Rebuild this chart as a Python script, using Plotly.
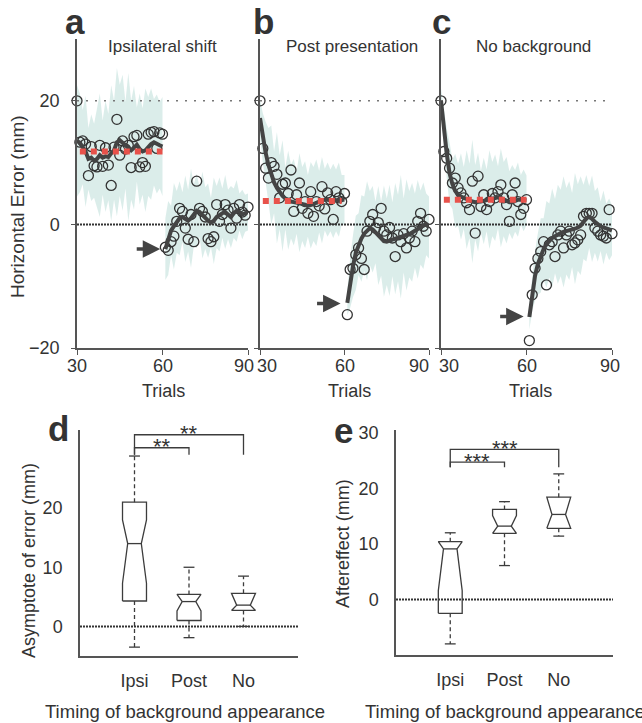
import plotly.graph_objects as go

# ---------------- data: top panels (trials 30..60 pre, 61..90 post) ----------------
trials_pre = list(range(30, 61))
trials_post = list(range(61, 91))

a_pre_pts = [20, 13.3, 13.5, 13.0, 7.9, 12.6, 9.5, 9.3, 12.8, 9.4, 12.4, 9.6, 6.3, 12.5, 17.0, 11.2,
             13.5, 12.2, 12.8, 9.2, 14.2, 14.4, 9.3, 10.0, 9.4, 14.6, 14.9, 15.0, 12.3, 14.8, 14.6]
a_post_pts = [-3.7, -4.2, -2.8, -1.9, 0.5, 2.6, 2.1, -0.6, -2.4, 1.6, -2.8, 7.0, 2.6, 2.1, 1.2,
              -2.3, -2.8, -2.0, 3.2, 0.5, 1.6, 3.2, 2.3, -0.6, 2.6, 1.0, 3.2, 2.0, 1.5, 2.8]
a_pre_fit = [13.5, 13.2, 12.5, 11.8, 10.6, 10.8, 10.3, 10.6, 11.2, 10.8, 11.0, 10.9, 11.5, 12.0, 13.3,
             13.6, 13.2, 12.8, 12.5, 12.0, 12.4, 12.9, 12.2, 11.8, 12.0, 12.6, 13.0, 13.3, 13.0, 12.8, 12.6]
a_post_fit = [-4.0, -2.2, -1.0, -0.3, 0.4, 1.0, 1.2, 0.9, 0.6, 1.0, 1.5, 2.2, 2.0, 1.5, 1.0,
              0.6, 0.3, 0.6, 1.2, 1.6, 1.8, 2.0, 1.6, 1.2, 1.8, 2.2, 2.0, 1.6, 1.8, 2.0]
a_pre_sd = [9, 8, 6, 9, 5, 7, 6, 8, 10, 6, 9, 7, 11, 8, 12, 9, 11, 7, 12, 8, 10, 6, 9, 7, 10, 8, 9, 7, 8, 7, 8]
a_post_sd = [5, 6, 4, 7, 5, 6, 4, 7, 5, 8, 5, 6, 4, 7, 5, 6, 4, 7, 5, 6, 4, 6, 4, 5, 4, 5, 3, 4, 3, 3]

b_pre_pts = [20, 12.3, 9.1, 7.5, 10.0, 9.4, 8.1, 4.3, 6.5, 6.7, 5.0, 8.8, 2.1, 4.8, 6.7, 2.6,
             3.7, 1.8, 5.3, 1.3, 3.7, 3.0, 6.1, 2.5, 5.1, 4.0, 0.8, 5.3, 4.3, 3.7, 5.0]
b_post_pts = [-14.6, -7.3, -7.1, -4.9, -3.8, -5.5, -7.3, -1.1, 0.5, 1.6, -0.6, 0.3, 2.6, -1.1, -1.7,
              -0.5, -2.2, -5.2, -1.7, -2.8, -1.5, -3.8, -2.2, -1.1, -2.8, 0.5, 1.8, -0.3, -1.1, 0.8]
b_pre_fit = [17.2, 14.0, 11.6, 9.6, 8.0, 6.8, 5.9, 5.2, 4.6, 4.2, 3.9, 3.7, 3.6, 3.5, 3.5, 3.3,
             3.2, 3.0, 3.1, 3.3, 3.5, 3.7, 3.9, 4.0, 4.0, 3.9, 3.8, 3.9, 4.0, 4.0, 4.0]
b_post_fit = [-12.7, -9.5, -6.8, -4.6, -3.2, -2.3, -1.5, -1.0, -0.6, -0.8, -1.3, -1.8, -2.3, -2.7, -2.8,
              -2.6, -2.4, -2.3, -2.2, -2.0, -1.8, -1.7, -1.6, -1.3, -1.0, -0.8, -0.5, -0.2, 0.0, -0.5]
b_pre_sd = [3, 4, 5, 6, 8, 5, 9, 6, 9, 5, 8, 6, 7, 5, 8, 6, 7, 5, 7, 6, 7, 5, 7, 5, 6, 5, 6, 5, 6, 4, 4]
b_post_sd = [2, 4, 5, 6, 5, 7, 6, 8, 6, 7, 5, 8, 6, 9, 7, 9, 6, 9, 7, 10, 6, 9, 7, 8, 6, 8, 6, 7, 5, 5]

c_pre_pts = [20, 11.8, 10.7, 9.1, 6.7, 7.5, 5.9, 5.1, 4.3, 3.5, 2.4, 7.0, -1.4, 7.8, 2.9, 4.8,
             2.4, 3.7, 5.0, 4.3, 5.3, 6.4, 4.3, 3.2, 0.5, 4.8, 6.7, 3.7, 1.6, 2.6, 4.0]
c_post_pts = [-18.8, -11.4, -7.1, -5.5, -4.4, -2.8, -9.8, -3.3, -2.8, -5.2, -1.7, -1.1, -3.8, -1.7, -1.1,
              -3.3, -3.0, -2.5, -1.7, 1.3, 1.8, 1.8, 1.8, -0.6, -1.1, -1.7, -1.9, -2.2, 2.4, -1.5]
c_pre_fit = [20.0, 15.5, 11.5, 8.3, 6.5, 5.4, 4.8, 4.5, 4.3, 4.0, 3.8, 3.7, 3.6, 3.6, 3.7, 3.8,
             3.9, 4.0, 4.1, 4.3, 4.4, 4.3, 4.1, 3.9, 3.6, 3.6, 3.8, 4.0, 4.0, 3.9, 3.9]
c_post_fit = [-15.0, -11.0, -8.3, -6.4, -5.0, -4.0, -3.2, -2.6, -2.2, -1.9, -1.6, -1.4, -1.2, -1.1, -1.0,
              -0.9, -0.7, -0.5, -0.2, 0.4, 1.0, 1.2, 0.9, 0.4, 0.0, -0.3, -0.5, -0.6, -0.8, -1.0]
c_pre_sd = [2, 3, 4, 5, 4, 6, 5, 7, 5, 8, 6, 10, 6, 8, 5, 7, 5, 8, 6, 7, 5, 8, 6, 7, 5, 6, 5, 6, 4, 5, 4]
c_post_sd = [2, 3, 4, 5, 6, 5, 7, 6, 8, 6, 8, 7, 9, 7, 8, 6, 9, 7, 8, 6, 7, 5, 7, 5, 6, 4, 6, 4, 5, 4]

panel_titles = ["Ipsilateral shift", "Post presentation", "No background"]
panel_letters = ["a", "b", "c"]
asym_vals = [11.8, 3.8, 4.0]
asym_start = [31, 31, 31]
asym_end = [60, 59, 60]
arrow_trial = [59.2, 58.6, 59.0]
arrow_val = [-4.0, -12.8, -14.9]
top_xticks = [30, 60, 90]
top_yticks = [-20, 0, 20]

# ---------------- data: box plots ----------------
groups = ["Ipsi", "Post", "No"]
group_pos = [1, 2, 3]

d_q1 = [4.3, 1.0, 2.7]
d_med = [14.0, 4.2, 3.6]
d_q3 = [21.0, 5.4, 5.6]
d_low = [-3.5, -1.9, 0.0]
d_high = [28.8, 10.0, 8.5]
d_notch_lo = [7.3, 2.6, 1.1]
d_notch_hi = [18.0, 5.8, 6.1]

e_q1 = [-2.5, 11.9, 12.8]
e_med = [9.1, 13.2, 15.3]
e_q3 = [10.4, 16.2, 18.4]
e_low = [-8.0, 6.1, 11.4]
e_high = [12.0, 17.6, 22.6]
e_notch_lo = [1.6, 11.3, 12.0]
e_notch_hi = [10.6, 15.1, 18.6]

# brackets: (from group, to group, top value, drop value, label)
d_brackets = [(1, 3, 32.4, 29.0, "**"), (1, 2, 30.2, 29.0, "**")]
e_brackets = [(1, 3, 27.0, 23.8, "***"), (1, 2, 24.7, 23.8, "***")]

# ---------------- styling ----------------
FONT = "Arial, 'Liberation Sans', sans-serif"
TXT = "#333333"
LINE = "#3c3c3c"
W, H = 642, 723


def px_x(p):
    return p / W


def px_y(p):
    return 1 - p / H


def label(x, y, text, size=18, angle=0):
    fig.add_annotation(x=px_x(x), y=px_y(y), xref="paper", yref="paper", text=text,
                       showarrow=False, xanchor="center", yanchor="middle", textangle=angle,
                       font=dict(size=size, color=TXT, family=FONT))


fig = go.Figure()

top_panels = [
    (a_pre_pts, a_post_pts, a_pre_fit, a_post_fit, a_pre_sd, a_post_sd),
    (b_pre_pts, b_post_pts, b_pre_fit, b_post_fit, b_pre_sd, b_post_sd),
    (c_pre_pts, c_post_pts, c_pre_fit, c_post_fit, c_pre_sd, c_post_sd),
]
top_xdom = [(77, 248), (260, 429), (441, 612)]
top_ydom = (348, 39)
# small horizontal nudges of the trial tick labels (as in the original layout)
tick_nudge = [(0, 0, -4), (7, 0, -10), (8, 0, -2)]

for i, (pre_pts, post_pts, pre_fit, post_fit, pre_sd, post_sd) in enumerate(top_panels):
    xa = "x" if i == 0 else f"x{i+1}"
    ya = "y" if i == 0 else f"y{i+1}"
    # shaded variability band
    for tr, fit, sd in ((trials_pre, pre_fit, pre_sd), (trials_post, post_fit, post_sd)):
        up = [f + s for f, s in zip(fit, sd)]
        lo = [f - s for f, s in zip(fit, sd)]
        fig.add_trace(go.Scatter(x=tr + tr[::-1], y=up + lo[::-1], fill="toself",
                                 fillcolor="rgba(170,212,204,0.42)", line=dict(width=0),
                                 mode="lines", hoverinfo="skip", showlegend=False,
                                 xaxis=xa, yaxis=ya))
    # reference lines
    fig.add_trace(go.Scatter(x=[top_xticks[0], top_xticks[-1]], y=[20, 20], mode="lines",
                             line=dict(color="#777777", width=1.5, dash="2px,7px"),
                             showlegend=False, hoverinfo="skip", xaxis=xa, yaxis=ya))
    fig.add_trace(go.Scatter(x=[top_xticks[0], top_xticks[-1]], y=[0, 0], mode="lines",
                             line=dict(color="#333333", width=2, dash="2px,1px"),
                             showlegend=False, hoverinfo="skip", xaxis=xa, yaxis=ya))
    # data points
    fig.add_trace(go.Scatter(x=trials_pre + trials_post, y=pre_pts + post_pts, mode="markers",
                             marker=dict(symbol="circle-open", size=10, color="#333333",
                                         line=dict(width=1.3)),
                             cliponaxis=False, showlegend=False, xaxis=xa, yaxis=ya))
    # fitted curves
    for tr, fit in ((trials_pre, pre_fit), (trials_post, post_fit)):
        fig.add_trace(go.Scatter(x=tr, y=fit, mode="lines",
                                 line=dict(color="#444444", width=4),
                                 showlegend=False, xaxis=xa, yaxis=ya))
    # asymptote
    fig.add_trace(go.Scatter(x=[asym_start[i], asym_end[i]], y=[asym_vals[i], asym_vals[i]],
                             mode="lines", line=dict(color="#e8524b", width=6, dash="6px,5px"),
                             showlegend=False, xaxis=xa, yaxis=ya))
    # arrow
    fig.add_annotation(x=arrow_trial[i], y=arrow_val[i], xref=xa, yref=ya, ax=-25, ay=0,
                       showarrow=True, arrowhead=2, arrowsize=1, arrowwidth=3.5,
                       arrowcolor="#444444", text="")
    x0, x1 = top_xdom[i]
    fig.update_layout({
        ("xaxis" if i == 0 else f"xaxis{i+1}"): dict(
            domain=[px_x(x0), px_x(x1)], range=[30, 90], anchor=ya, automargin=False,
            tickvals=top_xticks, ticks="outside", ticklen=5, tickwidth=1.3, tickcolor="#555",
            showticklabels=False,
            showline=True, linecolor="#555", linewidth=1.5, showgrid=False, zeroline=False),
        ("yaxis" if i == 0 else f"yaxis{i+1}"): dict(
            domain=[px_y(top_ydom[0]), px_y(top_ydom[1])], range=[-20, 30], anchor=xa,
            automargin=False,
            tickvals=top_yticks, ticks="outside", ticklen=4, tickwidth=1.3, tickcolor="#555",
            showticklabels=(i == 0), ticklabelstandoff=8,
            showline=True, linecolor="#555", linewidth=1.5, showgrid=False, zeroline=False,
            tickfont=dict(size=18, color=TXT, family=FONT)),
    })
    # trial tick labels
    for tv, nud in zip(top_xticks, tick_nudge[i]):
        fig.add_annotation(x=tv, y=px_y(366), xref=xa, yref="paper", text=str(tv),
                           showarrow=False, xanchor="center", yanchor="middle", xshift=nud,
                           font=dict(size=18, color=TXT, family=FONT))
    label([164, 350, 530][i], 391, "Trials")
    label([163, 352, 533][i], 47, panel_titles[i], size=17)
    label([75, 263, 441][i], 21, f"<b>{panel_letters[i]}</b>", size=35)

label(17, 207, "Horizontal Error (mm)", size=19, angle=-90)

# ---------------- box panels ----------------
HW = 0.22   # box half width
NW = 0.125  # notch half width
CW = 0.10   # cap half width


def add_boxes(xa, ya, q1, med, q3, low, high, nlo, nhi):
    for c, a, m, b, lw, hw, nl, nh in zip(group_pos, q1, med, q3, low, high, nlo, nhi):
        lo_n = max(nl, a)
        hi_n = min(nh, b)
        xs = [c - HW, c - HW, c - NW, c - HW, c - HW, c + HW, c + HW, c + NW, c + HW, c + HW, c - HW]
        ys = [a, lo_n, m, hi_n, b, b, hi_n, m, lo_n, a, a]
        fig.add_trace(go.Scatter(x=xs, y=ys, mode="lines", line=dict(color=LINE, width=1.3),
                                 showlegend=False, xaxis=xa, yaxis=ya))
        fig.add_trace(go.Scatter(x=[c - NW, c + NW], y=[m, m], mode="lines",
                                 line=dict(color=LINE, width=1.3),
                                 showlegend=False, xaxis=xa, yaxis=ya))
        for s, e in ((b, hw), (a, lw)):
            fig.add_trace(go.Scatter(x=[c, c], y=[s, e], mode="lines",
                                     line=dict(color=LINE, width=1.3, dash="4px,3px"),
                                     showlegend=False, xaxis=xa, yaxis=ya))
            fig.add_trace(go.Scatter(x=[c - CW, c + CW], y=[e, e], mode="lines",
                                     line=dict(color=LINE, width=1.3),
                                     showlegend=False, xaxis=xa, yaxis=ya))


def add_brackets(xa, ya, brackets):
    for g1, g2, top, drop, lab in brackets:
        fig.add_trace(go.Scatter(x=[g1, g1, g2, g2], y=[drop, top, top, drop], mode="lines",
                                 line=dict(color=LINE, width=1.3),
                                 showlegend=False, xaxis=xa, yaxis=ya))
        fig.add_annotation(x=(g1 + g2) / 2, y=top, xref=xa, yref=ya, text=lab,
                           showarrow=False, xanchor="center", yanchor="middle", yshift=1,
                           font=dict(size=22, color=TXT, family=FONT))


for xa, ya in (("x4", "y4"), ("x5", "y5")):
    fig.add_trace(go.Scatter(x=[0, 4], y=[0, 0], mode="lines",
                             line=dict(color="#333333", width=2, dash="2px,1px"),
                             showlegend=False, hoverinfo="skip", xaxis=xa, yaxis=ya))

add_boxes("x4", "y4", d_q1, d_med, d_q3, d_low, d_high, d_notch_lo, d_notch_hi)
add_boxes("x5", "y5", e_q1, e_med, e_q3, e_low, e_high, e_notch_lo, e_notch_hi)
add_brackets("x4", "y4", d_brackets)
add_brackets("x5", "y5", e_brackets)

box_x_common = dict(range=[0, 4], tickvals=group_pos, ticktext=groups, ticks="",
                    showline=True, linecolor="#555", linewidth=1.5, showgrid=False,
                    zeroline=False, ticklabelstandoff=8, automargin=False,
                    tickfont=dict(size=18, color=TXT, family=FONT))
box_y_common = dict(ticks="", showline=True, linecolor="#555", linewidth=1.5,
                    showgrid=False, zeroline=False, ticklabelstandoff=12, automargin=False,
                    tickfont=dict(size=18, color=TXT, family=FONT))

fig.update_layout(
    xaxis4=dict(domain=[px_x(80), px_x(298)], anchor="y4", **box_x_common),
    yaxis4=dict(domain=[px_y(656), px_y(430)], anchor="x4", range=[-5, 33.2],
                tickvals=[0, 10, 20], **box_y_common),
    xaxis5=dict(domain=[px_x(396), px_x(613)], anchor="y5", **box_x_common),
    yaxis5=dict(domain=[px_y(655), px_y(430)], anchor="x5", range=[-10, 30.5],
                tickvals=[0, 10, 20, 30], **box_y_common),
)

label(29, 561, "Asymptote of error (mm)", angle=-90)
label(343, 544, "Aftereffect (mm)", angle=-90)
label(185, 711, "Timing of background appearance", size=18.5)
label(505, 711, "Timing of background appearance", size=18.5)
label(58, 428, "<b>d</b>", size=35)
label(344, 430, "<b>e</b>", size=35)

fig.update_layout(width=W, height=H, margin=dict(l=0, r=0, t=0, b=0, autoexpand=False),
                  paper_bgcolor="white", plot_bgcolor="white", showlegend=False,
                  font=dict(family=FONT, color=TXT))

fig.write_html("out.html")
